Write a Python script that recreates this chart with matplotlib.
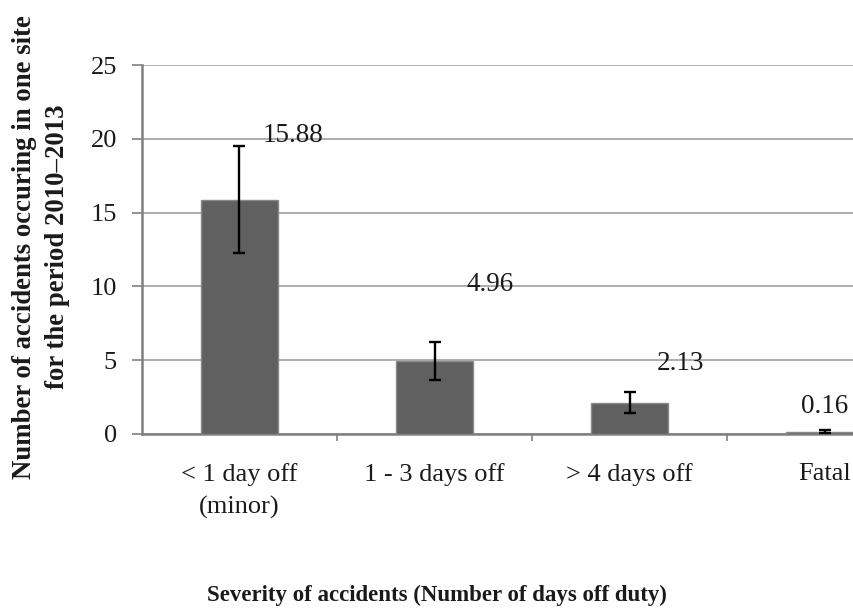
import matplotlib.pyplot as plt
from matplotlib.ticker import FixedLocator

# severity categories and mean accidents per site (2010-2013)
categories = ["< 1 day off\n(minor)", "1 - 3 days off", "> 4 days off", "Fatal"]
means = [15.88, 4.96, 2.13, 0.16]
errors = [3.65, 1.27, 0.74, 0.08]
value_labels = ["15.88", "4.96", "2.13", "0.16"]

# where the value labels sit (offset from bar centre, height on y scale)
label_dx = [0.274, 0.285, 0.26, 0.0]
label_y = [20.2, 10.1, 4.8, 1.85]

plt.rcParams["font.family"] = ["Liberation Serif", "DejaVu Serif"]

fig = plt.figure(figsize=(8.54, 6.12), dpi=100)
# the original is cropped on the right: the axes run past the figure edge
ax = fig.add_axes([142 / 854, 1 - 434 / 612, 780 / 854, 369 / 612])

x = list(range(len(categories)))
ax.bar(x, means, width=0.395, color="#606060", edgecolor="#8a8a8a", linewidth=1, zorder=3)
ax.errorbar(x, means, yerr=errors, fmt="none", ecolor="black", elinewidth=1.7,
            capsize=4.5, capthick=1.7, zorder=4)

for i, txt in enumerate(value_labels):
  ax.text(x[i] + label_dx[i], label_y[i], txt, ha="center", va="center",
          fontsize=19.5, color="#1a1a1a", zorder=5)

ax.set_xlim(-0.5, len(categories) - 0.5)
ax.set_ylim(0, 25)
ax.set_yticks([0, 5, 10, 15, 20, 25])
ax.yaxis.grid(True, color="#a0a0a0", linewidth=1.2, zorder=0)
ax.set_axisbelow(True)

ax.set_xticks(x)
ax.set_xticklabels(categories, fontsize=19, color="#1a1a1a", linespacing=1.55)
ax.xaxis.set_minor_locator(FixedLocator([0.5, 1.5, 2.5]))
ax.tick_params(axis="x", which="major", length=0, pad=21)
ax.tick_params(axis="x", which="minor", length=5, width=1.2, color="#808080")
ax.tick_params(axis="y", length=7, width=1.2, color="#808080", labelsize=19,
               labelcolor="#1a1a1a", pad=11)

for side in ["top", "right"]:
  ax.spines[side].set_visible(False)
for side in ["left", "bottom"]:
  ax.spines[side].set_color("#808080")
  ax.spines[side].set_linewidth(1.8)

fig.text(41 / 854, 1 - 247 / 612,
         "Number of accidents occuring in one site\nfor the period 2010\u20132013",
         rotation=90, ha="center", va="center", multialignment="center",
         fontsize=19.3, fontweight="bold", color="#1a1a1a", linespacing=1.45)
fig.text(437 / 854, 1 - 595 / 612, "Severity of accidents (Number of days off duty)",
         ha="center", va="center", fontsize=16.5, fontweight="bold", color="#1a1a1a")

fig.savefig("out.png", dpi=100)
